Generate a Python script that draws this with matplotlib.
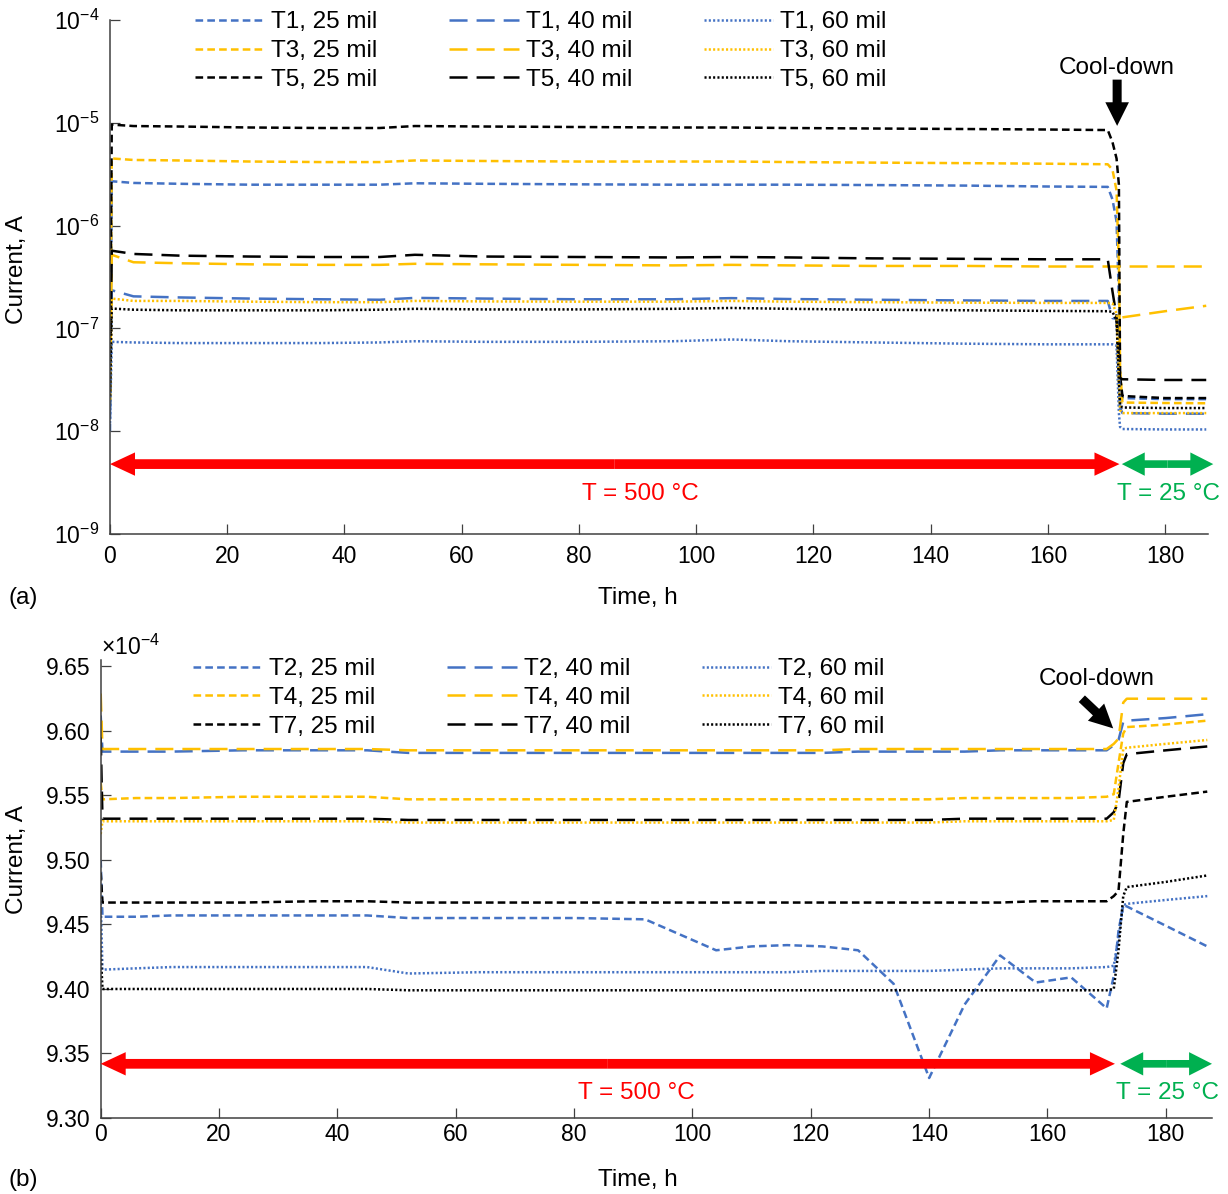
import numpy as np
import matplotlib
matplotlib.use('Agg')
import matplotlib.pyplot as plt
from matplotlib.patches import FancyArrowPatch
from matplotlib.ticker import FixedLocator, NullLocator

plt.rcParams['font.family'] = ['Liberation Sans', 'DejaVu Sans']
plt.rcParams['mathtext.fontset'] = 'custom'
plt.rcParams['mathtext.rm'] = 'Liberation Sans'
plt.rcParams['mathtext.it'] = 'Liberation Sans:italic'
plt.rcParams['mathtext.bf'] = 'Liberation Sans:bold'
plt.rcParams['lines.scale_dashes'] = False

# -- data, panel (a): log current, A -- #
t_a = [0, 0.3, 4, 12, 24, 36, 46, 52, 64, 80, 96, 106, 116, 130, 146, 160,
       170.2, 171.0, 171.7, 172.1, 172.3, 172.7, 180, 187]
T1_25 = [1.0e-8, 2.7e-6, 2.6e-6, 2.55e-6, 2.5e-6, 2.5e-6, 2.5e-6, 2.58e-6, 2.55e-6, 2.52e-6, 2.5e-6, 2.5e-6,
         2.5e-6, 2.48e-6, 2.45e-6, 2.4e-6, 2.38e-6, 1.8e-6, 1.1e-6, 2e-7, 3e-8, 2.1e-8, 2.05e-8, 2.05e-8]
T3_25 = [1.8e-8, 4.5e-6, 4.35e-6, 4.3e-6, 4.2e-6, 4.15e-6, 4.15e-6, 4.3e-6, 4.25e-6, 4.2e-6, 4.2e-6, 4.2e-6,
         4.15e-6, 4.1e-6, 4.05e-6, 4.0e-6, 3.95e-6, 3.5e-6, 2.2e-6, 4e-7, 4e-8, 1.9e-8, 1.88e-8, 1.87e-8]
T5_25 = [2.5e-8, 9.6e-6, 9.3e-6, 9.2e-6, 9.0e-6, 8.9e-6, 8.9e-6, 9.3e-6, 9.2e-6, 9.1e-6, 9.0e-6, 9.0e-6,
         8.9e-6, 8.8e-6, 8.7e-6, 8.6e-6, 8.5e-6, 6.5e-6, 4.5e-6, 2.5e-6, 3.5e-8, 2.2e-8, 2.1e-8, 2.1e-8]
T1_40 = [1.5e-8, 2.35e-7, 2.05e-7, 2.0e-7, 1.95e-7, 1.92e-7, 1.9e-7, 1.98e-7, 1.95e-7, 1.92e-7, 1.92e-7, 1.97e-7,
         1.93e-7, 1.9e-7, 1.87e-7, 1.85e-7, 1.85e-7, 1.26e-7, 1.24e-7, 4e-8, 1.7e-8, 1.5e-8, 1.48e-8, 1.48e-8]
T3_40 = [2.0e-8, 5.2e-7, 4.4e-7, 4.3e-7, 4.2e-7, 4.15e-7, 4.15e-7, 4.25e-7, 4.2e-7, 4.15e-7, 4.1e-7, 4.15e-7,
         4.1e-7, 4.05e-7, 4.05e-7, 4.0e-7, 4.0e-7, 4.0e-7, 4.0e-7, 4.0e-7, 4.0e-7, 4.0e-7, 4.0e-7, 4.0e-7]
T3_40b = [np.nan] * 21 + [1.28e-7, 1.47e-7, 1.66e-7]
T5_40 = [2.5e-8, 5.7e-7, 5.3e-7, 5.1e-7, 5.0e-7, 4.95e-7, 4.95e-7, 5.2e-7, 5.0e-7, 4.95e-7, 4.9e-7, 4.95e-7,
         4.9e-7, 4.8e-7, 4.75e-7, 4.7e-7, 4.7e-7, 2.3e-7, 1.3e-7, 5e-8, 3.3e-8, 3.2e-8, 3.15e-8, 3.15e-8]
T1_60 = [1.2e-8, 7.4e-8, 7.3e-8, 7.2e-8, 7.2e-8, 7.2e-8, 7.3e-8, 7.5e-8, 7.4e-8, 7.4e-8, 7.5e-8, 7.8e-8,
         7.5e-8, 7.3e-8, 7.1e-8, 7.0e-8, 7.0e-8, 7.0e-8, 6.8e-8, 1.5e-8, 1.1e-8, 1.05e-8, 1.04e-8, 1.04e-8]
T3_60 = [2.0e-8, 1.95e-7, 1.85e-7, 1.85e-7, 1.82e-7, 1.8e-7, 1.8e-7, 1.85e-7, 1.83e-7, 1.82e-7, 1.82e-7, 1.85e-7,
         1.82e-7, 1.8e-7, 1.78e-7, 1.77e-7, 1.77e-7, 1.75e-7, 1.4e-7, 3e-8, 1.6e-8, 1.5e-8, 1.5e-8, 1.5e-8]
T5_60 = [2.2e-8, 1.56e-7, 1.52e-7, 1.5e-7, 1.5e-7, 1.5e-7, 1.52e-7, 1.55e-7, 1.53e-7, 1.53e-7, 1.55e-7, 1.58e-7,
         1.55e-7, 1.52e-7, 1.5e-7, 1.48e-7, 1.47e-7, 1.45e-7, 1.2e-7, 3e-8, 1.8e-8, 1.7e-8, 1.68e-8, 1.68e-8]

# -- data, panel (b): current, 1e-4 A -- #
t_b = [0, 0.3, 6, 12, 24, 36, 45, 52, 64, 80, 92, 104, 110, 116, 122, 128, 134, 140, 146, 152, 158, 164,
       170, 171.2, 172.0, 172.8, 173.4, 180, 187]
T2_25 = [9.500, 9.456, 9.456, 9.457, 9.457, 9.457, 9.457, 9.455, 9.455, 9.455, 9.454, 9.430, 9.433, 9.434, 9.433,
         9.430, 9.404, 9.331, 9.388, 9.426, 9.405, 9.409, 9.385, 9.410, 9.445, 9.465, 9.464, 9.449, 9.433]
T4_25 = [9.560, 9.547, 9.548, 9.548, 9.549, 9.549, 9.549, 9.547, 9.547, 9.547, 9.547, 9.547, 9.547, 9.547, 9.547,
         9.547, 9.547, 9.547, 9.548, 9.548, 9.548, 9.548, 9.549, 9.551, 9.575, 9.598, 9.603, 9.605, 9.608]
T7_25 = [9.490, 9.467, 9.467, 9.467, 9.467, 9.468, 9.468, 9.467, 9.467, 9.467, 9.467, 9.467, 9.467, 9.467, 9.467,
         9.467, 9.467, 9.467, 9.467, 9.467, 9.468, 9.468, 9.468, 9.472, 9.476, 9.520, 9.545, 9.549, 9.553]
T2_40 = [9.612, 9.584, 9.584, 9.584, 9.585, 9.585, 9.585, 9.583, 9.583, 9.583, 9.583, 9.583, 9.583, 9.583, 9.583,
         9.584, 9.584, 9.584, 9.584, 9.585, 9.585, 9.585, 9.585, 9.589, 9.593, 9.607, 9.608, 9.610, 9.613]
T4_40 = [9.629, 9.586, 9.586, 9.586, 9.586, 9.586, 9.586, 9.585, 9.585, 9.585, 9.585, 9.585, 9.585, 9.585, 9.585,
         9.586, 9.586, 9.586, 9.586, 9.586, 9.586, 9.586, 9.586, 9.590, 9.594, 9.622, 9.625, 9.625, 9.625]
T7_40 = [9.595, 9.532, 9.532, 9.532, 9.532, 9.532, 9.532, 9.531, 9.531, 9.531, 9.531, 9.531, 9.531, 9.531, 9.531,
         9.531, 9.531, 9.531, 9.532, 9.532, 9.532, 9.532, 9.532, 9.537, 9.545, 9.575, 9.582, 9.585, 9.588]
T2_60 = [9.470, 9.415, 9.416, 9.417, 9.417, 9.417, 9.417, 9.412, 9.413, 9.413, 9.413, 9.413, 9.413, 9.413, 9.414,
         9.414, 9.414, 9.414, 9.415, 9.416, 9.416, 9.416, 9.417, 9.418, 9.440, 9.465, 9.466, 9.469, 9.472]
T4_60 = [9.520, 9.530, 9.530, 9.530, 9.530, 9.530, 9.530, 9.529, 9.529, 9.529, 9.529, 9.529, 9.529, 9.529, 9.529,
         9.529, 9.529, 9.529, 9.530, 9.530, 9.530, 9.530, 9.530, 9.531, 9.555, 9.586, 9.587, 9.590, 9.593]
T7_60 = [9.430, 9.400, 9.400, 9.400, 9.400, 9.400, 9.400, 9.399, 9.399, 9.399, 9.399, 9.399, 9.399, 9.399, 9.399,
         9.399, 9.399, 9.399, 9.399, 9.399, 9.399, 9.399, 9.399, 9.400, 9.430, 9.472, 9.479, 9.483, 9.488]

x_ticks = [0, 20, 40, 60, 80, 100, 120, 140, 160, 180]
ya_ticks = [1e-9, 1e-8, 1e-7, 1e-6, 1e-5, 1e-4]
ya_labels = [r'$10^{-9}$', r'$10^{-8}$', r'$10^{-7}$', r'$10^{-6}$', r'$10^{-5}$', r'$10^{-4}$']
yb_ticks = [9.30, 9.35, 9.40, 9.45, 9.50, 9.55, 9.60, 9.65]

# -- styles -- #
BLUE, YEL, BLK = '#4472C4', '#FFC000', '#000000'
RED, GRN = '#FF0000', '#00B050'
SHORT = (0, (5.5, 3.0))
LONG = (0, (13, 6.5))
DOT = (0, (1.5, 1.6))
LW = 1.8
FS = 16.5
LFS = 17.5  # legend text

W, H = 1228, 1194
fig = plt.figure(figsize=(W / 100, H / 100), dpi=100)
axa = fig.add_axes([110 / W, 1 - 534 / H, (1208 - 110) / W, (534 - 20) / H])
axb = fig.add_axes([100.7 / W, 1 - 1118 / H, (1212 - 100.7) / W, (1118 - 660) / H])


def style_axes(ax, xpad):
    for s in ['top', 'right']:
        ax.spines[s].set_visible(False)
    for s in ['left', 'bottom']:
        ax.spines[s].set_linewidth(1.1)
        ax.spines[s].set_color('#404040')
    ax.tick_params(axis='both', which='major', direction='in', length=7.5, width=0.9,
                   color='#404040', labelsize=FS)
    ax.tick_params(axis='x', pad=xpad)
    ax.tick_params(axis='y', pad=7.5)
    ax.xaxis.set_major_locator(FixedLocator(x_ticks))


def dbl_arrow(ax, x0, x1, y, color, tw, hw, hl):
    mid = (x0 + x1) / 2.0
    for end in (x0, x1):
        a = FancyArrowPatch((mid, y), (end, y), transform=ax.transData,
                            arrowstyle='simple,tail_width=%g,head_width=%g,head_length=%g' % (tw, hw, hl),
                            mutation_scale=1, color=color, lw=0, shrinkA=0, shrinkB=0, clip_on=False, zorder=5)
        ax.add_patch(a)


def one_arrow(ax, p0, p1):
    a = FancyArrowPatch(p0, p1, transform=ax.transData,
                        arrowstyle='simple,tail_width=6.5,head_width=17,head_length=17',
                        mutation_scale=1, color='black', lw=0, shrinkA=0, shrinkB=0, clip_on=False, zorder=5)
    ax.add_patch(a)


leg_kw = dict(ncol=3, loc='upper left', frameon=False, fontsize=LFS, handlelength=2.86,
              handletextpad=0.28, columnspacing=2.95, labelspacing=0.28, borderpad=0, borderaxespad=0)

# ---- panel (a) ---- #
series_a = [(T1_25, BLUE, SHORT, 'T1, 25 mil'), (T3_25, YEL, SHORT, 'T3, 25 mil'), (T5_25, BLK, SHORT, 'T5, 25 mil'),
            (T1_40, BLUE, LONG, 'T1, 40 mil'), (T3_40, YEL, LONG, 'T3, 40 mil'), (T5_40, BLK, LONG, 'T5, 40 mil'),
            (T1_60, BLUE, DOT, 'T1, 60 mil'), (T3_60, YEL, DOT, 'T3, 60 mil'), (T5_60, BLK, DOT, 'T5, 60 mil')]
for vals, c, ls, lab in series_a:
    axa.plot(t_a, vals, color=c, linestyle=ls, lw=LW, label=lab)
axa.plot(t_a, T3_40b, color=YEL, linestyle=LONG, lw=LW, label='_nolegend_')

axa.set_yscale('log')
axa.set_xlim(0, 187.3)
axa.set_ylim(1e-9, 1e-4)
style_axes(axa, 8)
axa.yaxis.set_major_locator(FixedLocator(ya_ticks))
axa.yaxis.set_minor_locator(NullLocator())
axa.set_yticklabels(ya_labels)

dbl_arrow(axa, 0, 172.2, 10 ** -8.32, RED, 7, 16.8, 18)
dbl_arrow(axa, 172.6, 188.2, 10 ** -8.32, GRN, 5.5, 16.8, 16.5)
axa.text(90.5, 10 ** -8.61, 'T = 500 °C', color=RED, fontsize=LFS, ha='center', va='center')
axa.text(180.5, 10 ** -8.61, 'T = 25 °C', color=GRN, fontsize=LFS, ha='center', va='center', clip_on=False)
axa.text(171.8, 10 ** -4.47, 'Cool-down', fontsize=LFS, ha='center', va='center')
one_arrow(axa, (171.8, 10 ** -4.58), (171.8, 10 ** -5.03))

axa.legend(bbox_to_anchor=(0.0774, 1.017), **leg_kw)

# ---- panel (b) ---- #
series_b = [(T2_25, BLUE, SHORT, 'T2, 25 mil'), (T4_25, YEL, SHORT, 'T4, 25 mil'), (T7_25, BLK, SHORT, 'T7, 25 mil'),
            (T2_40, BLUE, LONG, 'T2, 40 mil'), (T4_40, YEL, LONG, 'T4, 40 mil'), (T7_40, BLK, LONG, 'T7, 40 mil'),
            (T2_60, BLUE, DOT, 'T2, 60 mil'), (T4_60, YEL, DOT, 'T4, 60 mil'), (T7_60, BLK, DOT, 'T7, 60 mil')]
for vals, c, ls, lab in series_b:
    axb.plot(t_b, vals, color=c, linestyle=ls, lw=LW, label=lab)

axb.set_xlim(0, 187.8)
axb.set_ylim(9.30, 9.655)
style_axes(axb, 3.5)
axb.yaxis.set_major_locator(FixedLocator(yb_ticks))
axb.set_yticklabels(['%.2f' % v for v in yb_ticks])
axb.text(0.0, 1.0, r'×10$^{-4}$', transform=axb.transAxes, fontsize=FS, ha='left', va='bottom')

dbl_arrow(axb, 0, 171.4, 9.342, RED, 7, 16.8, 18)
dbl_arrow(axb, 172.3, 187.8, 9.342, GRN, 5.5, 16.8, 16.5)
axb.text(90.5, 9.319, 'T = 500 °C', color=RED, fontsize=LFS, ha='center', va='center')
axb.text(180.2, 9.319, 'T = 25 °C', color=GRN, fontsize=LFS, ha='center', va='center', clip_on=False)
axb.text(168.4, 9.640, 'Cool-down', fontsize=LFS, ha='center', va='center')
one_arrow(axb, (165.8, 9.625), (171.1, 9.602))

axb.legend(bbox_to_anchor=(0.083, 1.004), **leg_kw)

# ---- figure labels ---- #
fig.text(8 / W, 1 - 598 / H, '(a)', fontsize=LFS, ha='left', va='center')
fig.text(8 / W, 1 - 1180 / H, '(b)', fontsize=LFS, ha='left', va='center')
fig.text(638 / W, 1 - 598 / H, 'Time, h', fontsize=LFS, ha='center', va='center')
fig.text(638 / W, 1 - 1180 / H, 'Time, h', fontsize=LFS, ha='center', va='center')
fig.text(17.5 / W, 1 - 270 / H, 'Current, A', fontsize=LFS, ha='center', va='center', rotation=90)
fig.text(17.5 / W, 1 - 860 / H, 'Current, A', fontsize=LFS, ha='center', va='center', rotation=90)

fig.savefig('out.png', dpi=100)
